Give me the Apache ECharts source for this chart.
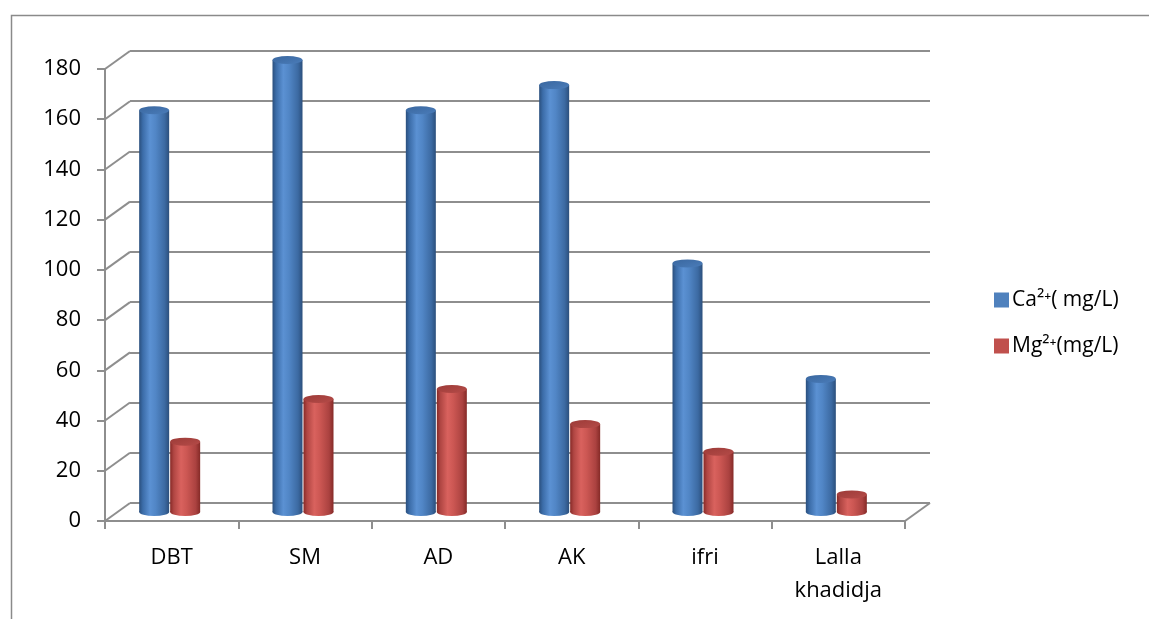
<!DOCTYPE html>
<html>
<head>
<meta charset="utf-8">
<title>Ca / Mg</title>
<script src="https://cdn.jsdelivr.net/npm/echarts@6/dist/echarts.min.js"></script>
<style>
  html, body { margin: 0; padding: 0; background: #fff; }
  #chart { width: 1149px; height: 619px; }
</style>
</head>
<body>
<div id="chart"></div>
<script>
// Sampling sites and measured concentrations (mg/L)
const categories = ['DBT', 'SM', 'AD', 'AK', 'ifri', 'Lalla\nkhadidja'];
const caValues = [160, 180, 160, 170, 99, 53];
const mgValues = [28, 45, 49, 35, 24, 7];
const seriesNames = ['Ca²⁺( mg/L)', 'Mg²⁺(mg/L)'];
const yMin = 0, yMax = 180, yStep = 20;
const gridValues = [];
for (let v = yMin; v <= yMax; v += yStep) gridValues.push(v);

// 3D look: offset between front plane and back wall
const DX = 25, DY = -18;
const LINE = '#8e8e8e';
const FONT = '"Open Sans", "Noto Sans", sans-serif';

const chart = echarts.init(document.getElementById('chart'), null, { renderer: 'canvas' });

// Cylinder shading per series
const shades = [
  { body: ['#2a4f7d', '#3b6ca8', '#5b91d3', '#5186c6', '#3c6aa2', '#2b4f7c'], top: ['#3a679f', '#4a7cb9'] },
  { body: ['#872a27', '#b04643', '#d9625e', '#cc5753', '#ab4240', '#852a27'], top: ['#9c3b38', '#b54b48'] }
];

function grad(stops) {
  const n = stops.length - 1;
  const pos = [0, 0.12, 0.36, 0.55, 0.85, 1];
  return new echarts.graphic.LinearGradient(0, 0, 1, 0,
    stops.map((c, i) => ({ offset: pos[i] !== undefined ? pos[i] : i / n, color: c })));
}

function cylinderRenderer(seriesIdx) {
  return function (params, api) {
    const idx = api.value(0);
    const val = api.value(1);
    const top = api.coord([idx, val]);
    const base = api.coord([idx, 0]);
    const w = 30;
    const cx = top[0] - 2 + (seriesIdx === 0 ? -w / 2 - 0.5 : w / 2 + 0.5);
    const yT = top[1] - 9;
    const yB = base[1] - 9;
    const rx = w / 2, ry = 4;
    const sh = shades[seriesIdx];
    return {
      type: 'group',
      children: [
        { type: 'circle', x: cx, y: yB, scaleY: ry / rx,
          shape: { cx: 0, cy: 0, r: rx }, style: { fill: grad(sh.body) } },
        { type: 'rect', shape: { x: cx - rx, y: yT, width: w, height: Math.max(0, yB - yT) },
          style: { fill: grad(sh.body) } },
        { type: 'circle', x: cx, y: yT, scaleY: ry / rx,
          shape: { cx: 0, cy: 0, r: rx },
          style: { fill: new echarts.graphic.LinearGradient(0, 0, 1, 1,
            [{ offset: 0, color: sh.top[0] }, { offset: 1, color: sh.top[1] }]) } }
      ]
    };
  };
}

function frameRenderer(params, api) {
  const cs = params.coordSys;
  const v = api.value(1);
  const y = api.coord([0, v])[1];
  const children = [{
    type: 'line',
    shape: { x1: cs.x, y1: y, x2: cs.x + DX, y2: y + DY },
    style: { stroke: LINE, lineWidth: 2 }
  }];
  if (v === yMin) {
    children.push({
      type: 'line',
      shape: { x1: cs.x + cs.width, y1: y, x2: cs.x + cs.width + DX, y2: y + DY },
      style: { stroke: LINE, lineWidth: 2 }
    });
  }
  return { type: 'group', children };
}

const option = {
  animation: false,
  backgroundColor: '#fff',
  textStyle: { fontFamily: FONT },
  graphic: [{
    type: 'rect', left: 9, top: 13, silent: true,
    shape: { width: 1300, height: 800 },
    style: { fill: 'none', stroke: '#8a8a8a', lineWidth: 1.5 }
  }],
  legend: {
    orient: 'vertical',
    left: 989, top: 282,
    itemWidth: 15, itemHeight: 15, itemGap: 20,
    icon: 'rect',
    data: seriesNames,
    textStyle: { fontFamily: FONT, fontSize: 21, color: '#000', lineHeight: 26, padding: [0, 0, 0, -2] },
    selectedMode: false
  },
  grid: [
    { left: 105, top: 69, width: 800, height: 452 },
    { left: 105 + DX, top: 69 + DY, width: 800, height: 452 }
  ],
  xAxis: [
    {
      gridIndex: 0, type: 'category', data: categories, boundaryGap: true,
      axisLine: { show: true, lineStyle: { color: LINE, width: 2 } },
      axisTick: { show: true, length: 8, lineStyle: { color: LINE, width: 2 } },
      axisLabel: { color: '#000', fontSize: 22, fontFamily: FONT, margin: 20, lineHeight: 33, interval: 0 }
    },
    {
      gridIndex: 1, type: 'category', data: categories, show: false
    }
  ],
  yAxis: [
    {
      gridIndex: 0, type: 'value', min: yMin, max: yMax, interval: yStep,
      axisLine: { show: true, lineStyle: { color: LINE, width: 2 } },
      axisTick: { show: true, length: 8, lineStyle: { color: LINE, width: 2 } },
      splitLine: { show: false },
      axisLabel: { color: '#000', fontSize: 22, fontFamily: FONT, margin: 24 }
    },
    {
      gridIndex: 1, type: 'value', min: yMin, max: yMax, interval: yStep,
      axisLine: { show: false }, axisTick: { show: false }, axisLabel: { show: false },
      splitLine: { show: true, lineStyle: { color: LINE, width: 2 } }
    }
  ],
  series: [
    {
      type: 'custom', name: 'frame', xAxisIndex: 0, yAxisIndex: 0, silent: true, z: 1,
      data: gridValues.map(v => [0, v]),
      renderItem: frameRenderer
    },
    {
      type: 'custom', name: seriesNames[0], xAxisIndex: 0, yAxisIndex: 0, z: 5,
      itemStyle: { color: '#4F81BD' },
      data: caValues.map((v, i) => [i, v]),
      renderItem: cylinderRenderer(0)
    },
    {
      type: 'custom', name: seriesNames[1], xAxisIndex: 0, yAxisIndex: 0, z: 6,
      itemStyle: { color: '#C0504D' },
      data: mgValues.map((v, i) => [i, v]),
      renderItem: cylinderRenderer(1)
    }
  ]
};

chart.setOption(option);
</script>
</body>
</html>
